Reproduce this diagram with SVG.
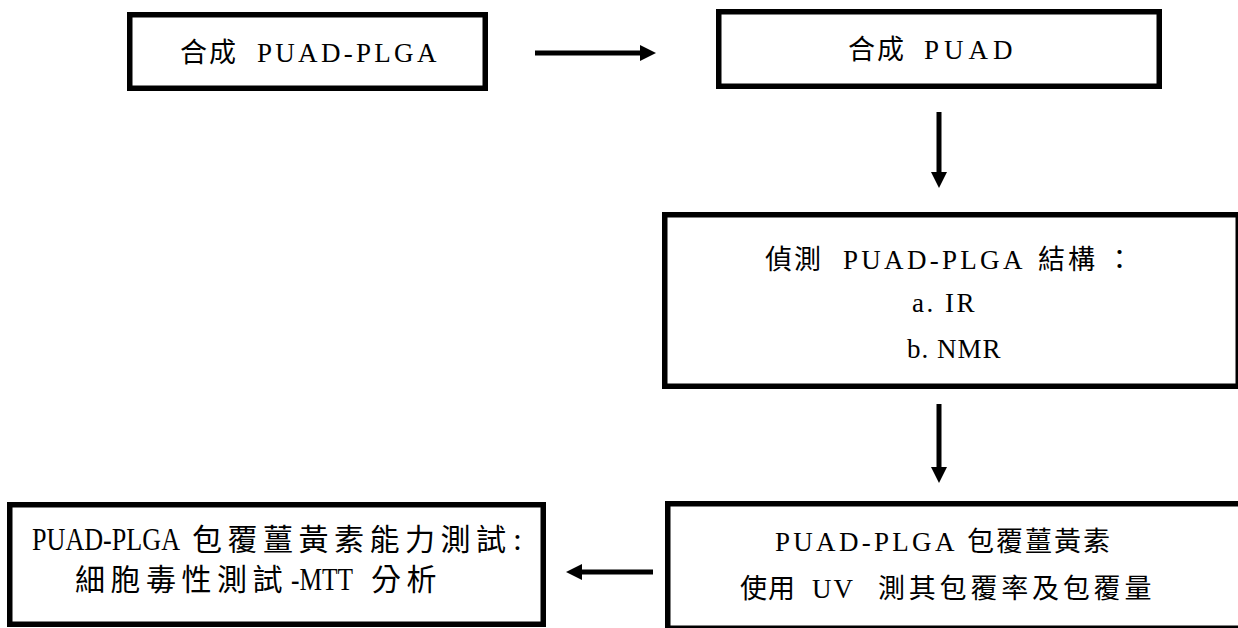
<svg xmlns="http://www.w3.org/2000/svg" width="1238" height="628" viewBox="0 0 1238 628">
<style>
.box{fill:#fff;stroke:#000;stroke-width:5.5}
.conn{stroke:#000;stroke-width:5;fill:none}
.t{font-family:"Liberation Serif",serif;font-size:27px;fill:#000}
.t5{font-size:32px}
.c{font-family:"Noto Sans CJK TC","Noto Sans CJK SC",sans-serif;letter-spacing:2px}
.c5{font-size:30px;letter-spacing:5.5px}
.l{letter-spacing:3.3px}
</style>
<defs>
<marker id="ah" viewBox="0 0 16 16" refX="0" refY="8" markerWidth="16" markerHeight="16" markerUnits="userSpaceOnUse" orient="auto">
<path d="M0,0 L16,8 L0,16 z" fill="#000"/>
</marker>
</defs>
<rect width="1238" height="628" fill="#fff"/>
<g id="connectors">
<line class="conn" x1="535" y1="53" x2="640" y2="53" marker-end="url(#ah)"/>
<line class="conn" x1="939" y1="112" x2="939" y2="172" marker-end="url(#ah)"/>
<line class="conn" x1="939" y1="404" x2="939" y2="467" marker-end="url(#ah)"/>
<line class="conn" x1="653" y1="572" x2="582" y2="572" marker-end="url(#ah)"/>
</g>
<g id="n1">
<rect class="box" x="129.75" y="14.75" width="355.5" height="73.5"/>
<text class="t" y="62"><tspan class="c" x="180">合成</tspan><tspan class="l" x="257">PUAD-PLGA</tspan></text>
</g>
<g id="n2">
<rect class="box" x="718.75" y="11.75" width="440.5" height="74.5"/>
<text class="t" y="59"><tspan class="c" x="848">合成</tspan><tspan x="924" style="letter-spacing:5px">PUAD</tspan></text>
</g>
<g id="n3">
<rect class="box" x="664.75" y="214.75" width="573.5" height="171.5"/>
<text class="t" y="269"><tspan class="c" x="765">偵測</tspan><tspan class="l" x="843">PUAD-PLGA</tspan><tspan class="c" x="1038 1068 1106">結構：</tspan></text>
<text class="t" x="912" y="312" style="letter-spacing:2.5px">a. IR</text>
<text class="t" x="907" y="358" style="letter-spacing:1px">b. NMR</text>
</g>
<g id="n4">
<rect class="box" x="667.75" y="503.75" width="600" height="124.5"/>
<text class="t" y="551"><tspan class="l" x="775">PUAD-PLGA</tspan><tspan class="c" x="967">包覆薑黃素</tspan></text>
<text class="t" y="598"><tspan class="c" x="740" style="letter-spacing:1px">使用</tspan><tspan x="812" style="letter-spacing:2px">UV</tspan><tspan class="c" x="878" style="letter-spacing:3.8px">測其包覆率及包覆量</tspan></text>
</g>
<g id="n5">
<rect class="box" x="9.75" y="504.75" width="533.5" height="119.5"/>
<text class="t t5" y="550"><tspan x="32" textLength="148" lengthAdjust="spacingAndGlyphs">PUAD-PLGA</tspan><tspan class="c c5" x="192">包覆薑黃素能力測試</tspan><tspan x="513">:</tspan></text>
<text class="t t5" y="590"><tspan class="c c5" x="75">細胞毒性測試</tspan><tspan x="291" textLength="62" lengthAdjust="spacingAndGlyphs">-MTT</tspan><tspan class="c c5" x="371">分析</tspan></text>
</g>
</svg>
